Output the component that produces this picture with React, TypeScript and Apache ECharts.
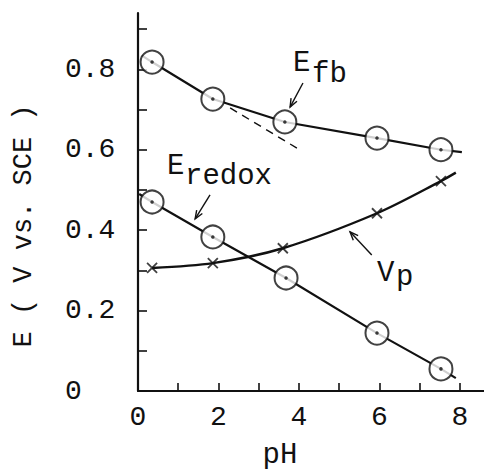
import React, { useEffect, useRef } from "react";
import * as echarts from "echarts";

// Axis ticks and labels
const pHTicks = [0, 1, 2, 3, 4, 5, 6, 7, 8];
const pHLabels = [0, 2, 4, 6, 8];
const eTicks = [0, 0.1, 0.2, 0.3, 0.4, 0.5, 0.6, 0.7, 0.8, 0.9];
const eLabels = [0, 0.2, 0.4, 0.6, 0.8];

// Flat-band potential E_fb
const efbPH = [0.35, 1.86, 3.65, 5.94, 7.53];
const efbE = [0.818, 0.726, 0.669, 0.629, 0.6];
const efbEnds = [
  [0.1, 0.834],
  [8.05, 0.594],
];

// Redox potential E_redox
const redoxPH = [0.35, 1.86, 3.68, 5.94, 7.53];
const redoxE = [0.47, 0.383, 0.281, 0.144, 0.055];
const redoxEnds = [
  [0.03, 0.49],
  [7.9, 0.032],
];

// Peak potential V_p
const vpPH = [0.35, 1.86, 3.6, 5.94, 7.53];
const vpE = [0.306, 0.318, 0.355, 0.442, 0.522];
const vpEnd = [7.9, 0.543];

// Dashed extrapolation of the low-pH E_fb slope
const efbTangent = [
  [2.29, 0.704],
  [3.95, 0.604],
];

// Label arrows: [from, to] in (pH, E)
const arrowEfb = [
  [4.1, 0.766],
  [3.78, 0.706],
];
const arrowRedox = [
  [1.79, 0.488],
  [1.42, 0.428],
];
const arrowVp = [
  [5.81, 0.338],
  [5.27, 0.396],
];

const FONT = "'Liberation Mono', 'DejaVu Sans Mono', monospace";
const INK = "#111";

const zip = (xs: number[], ys: number[]) => xs.map((x, i) => [x, ys[i]]);

export default function App() {
  const ref = useRef<HTMLDivElement>(null);

  useEffect(() => {
    if (!ref.current) return;
    const chart = echarts.init(ref.current, null, { renderer: "svg" });

    const efbPts = zip(efbPH, efbE);
    const redoxPts = zip(redoxPH, redoxE);
    const vpPts = zip(vpPH, vpE);

    const circleStyle = {
      color: "#fff",
      borderColor: INK,
      borderWidth: 2,
    };

    chart.setOption({
      animation: false,
      backgroundColor: "#fff",
      grid: { left: 138, right: 0, top: 13, bottom: 80, containLabel: false },
      xAxis: {
        type: "value",
        min: 0,
        max: 8.6,
        splitLine: { show: false },
        axisLine: { show: true, onZero: false, lineStyle: { color: INK, width: 2.2 } },
        axisTick: {
          show: true,
          inside: true,
          length: 8,
          customValues: pHTicks,
          lineStyle: { color: INK, width: 1.6 },
        },
        axisLabel: {
          customValues: pHLabels,
          fontFamily: FONT,
          fontSize: 28,
          color: INK,
          margin: 12,
        },
      },
      yAxis: {
        type: "value",
        min: 0,
        max: 0.94,
        splitLine: { show: false },
        axisLine: { show: true, onZero: false, lineStyle: { color: INK, width: 2.2 } },
        axisTick: {
          show: true,
          inside: true,
          length: 9,
          customValues: eTicks,
          lineStyle: { color: INK, width: 1.6 },
        },
        axisLabel: {
          customValues: eLabels,
          formatter: (v: number) => (v === 0 ? "0" : v.toFixed(1)),
          fontFamily: FONT,
          fontSize: 28,
          color: INK,
          align: "left",
          margin: 73,
        },
      },
      series: [
        {
          type: "line",
          silent: true,
          symbol: "none",
          z: 2,
          data: [efbEnds[0], ...efbPts, efbEnds[1]],
          lineStyle: { color: INK, width: 2.2 },
        },
        {
          type: "line",
          silent: true,
          symbol: "none",
          z: 2,
          data: [redoxEnds[0], ...redoxPts, redoxEnds[1]],
          lineStyle: { color: INK, width: 2.2 },
        },
        {
          type: "line",
          silent: true,
          symbol: "none",
          z: 2,
          smooth: 0.3,
          data: [...vpPts, vpEnd],
          lineStyle: { color: INK, width: 2.4 },
        },
        {
          type: "line",
          silent: true,
          symbol: "none",
          z: 2,
          data: efbTangent,
          lineStyle: { color: INK, width: 1.4, type: [8, 6] },
        },
        {
          type: "scatter",
          silent: true,
          symbol: "circle",
          symbolSize: 23,
          z: 4,
          data: efbPts,
          itemStyle: circleStyle,
        },
        {
          type: "scatter",
          silent: true,
          symbol: "circle",
          symbolSize: 23,
          z: 4,
          data: redoxPts,
          itemStyle: circleStyle,
        },
        {
          type: "scatter",
          silent: true,
          symbol: "circle",
          symbolSize: 3.5,
          z: 8,
          data: [...efbPts, ...redoxPts],
          itemStyle: { color: INK },
        },
        {
          type: "scatter",
          silent: true,
          symbol: "path://M0 0L10 10M10 0L0 10",
          symbolSize: 10,
          z: 6,
          data: vpPts,
          itemStyle: { color: "none", borderColor: INK, borderWidth: 1.8 },
        },
      ],
    });

    const px = (p: number[]) =>
      chart.convertToPixel({ gridIndex: 0 }, p) as number[];

    const arrow = (seg: number[][]) => {
      const a = px(seg[0]);
      const b = px(seg[1]);
      const ang = Math.atan2(a[1] - b[1], a[0] - b[0]);
      const len = 9;
      const spread = 0.38;
      const h1 = [b[0] + len * Math.cos(ang + spread), b[1] + len * Math.sin(ang + spread)];
      const h2 = [b[0] + len * Math.cos(ang - spread), b[1] + len * Math.sin(ang - spread)];
      return [
        {
          type: "line",
          silent: true,
          shape: { x1: a[0], y1: a[1], x2: b[0], y2: b[1] },
          style: { stroke: INK, lineWidth: 1.4 },
        },
        {
          type: "polyline",
          silent: true,
          shape: { points: [h1, b, h2] },
          style: { stroke: INK, lineWidth: 1.4, fill: "none" },
        },
      ];
    };

    const label = (text: string, x: number, baseline: number, size = 29) => ({
      type: "text",
      silent: true,
      x,
      y: baseline - 0.3 * size,
      style: {
        text,
        fontFamily: FONT,
        fontSize: size,
        fill: INK,
        align: "left",
        verticalAlign: "middle",
      },
    });

    chart.setOption({
      graphic: [
        ...arrow(arrowEfb),
        ...arrow(arrowRedox),
        ...arrow(arrowVp),
        label("E", 293, 72),
        label("fb", 312, 83),
        label("E", 167, 175),
        label("redox", 185, 185),
        label("V", 377, 282),
        label("p", 396, 286),
        {
          type: "text",
          silent: true,
          x: 280,
          y: 455,
          style: {
            text: "pH",
            fontFamily: FONT,
            fontSize: 29,
            fill: INK,
            align: "center",
            verticalAlign: "middle",
          },
        },
        {
          type: "text",
          silent: true,
          x: 24,
          y: 226,
          rotation: Math.PI / 2,
          style: {
            text: "E ( V vs. SCE )",
            fontFamily: FONT,
            fontSize: 27,
            fill: INK,
            align: "center",
            verticalAlign: "middle",
          },
        },
      ],
    });

    return () => chart.dispose();
  }, []);

  return (
    <div
      ref={ref}
      style={{
        position: "fixed",
        left: 0,
        top: 0,
        width: 484,
        height: 471,
        background: "#fff",
      }}
    />
  );
}
